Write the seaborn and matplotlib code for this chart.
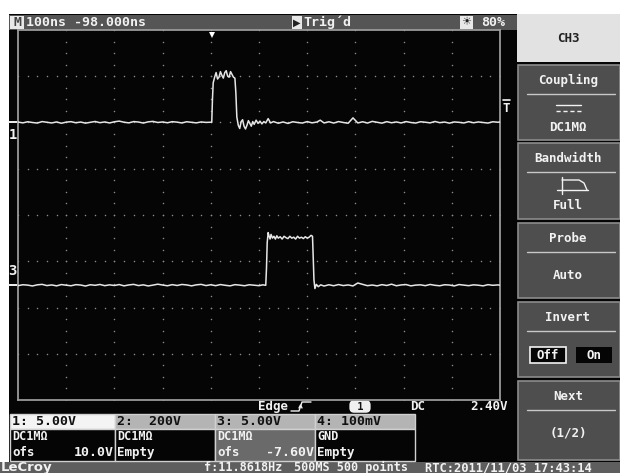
import numpy as np
import pandas as pd
import matplotlib
matplotlib.use("Agg")
import matplotlib.pyplot as plt
from matplotlib.patches import Rectangle
import seaborn as sns

# scope settings
TIME_DIV_NS = 100
TRIG_DELAY_NS = -98.0
CH1_VDIV, CH1_OFS = 5.0, 10.0
CH3_VDIV, CH3_OFS = 5.0, -7.6
TRIG_LEVEL_V = 2.40

# channel 1 trace (time in ns from screen centre, volts)
ch1_t = [-500, -490, -480, -470, -460, -450, -440, -430, -420, -410,
         -400, -390, -380, -370, -360, -350, -340, -330, -320, -310,
         -300, -290, -280, -270, -260, -250, -240, -230, -220, -210,
         -200, -190, -180, -170, -160, -150, -140, -130, -120, -110,
         -100, -98, -96.5, -95, -92, -89, -86, -83, -80, -77,
         -74, -71, -68, -65, -62, -59, -56, -53, -50, -48,
         -46, -43, -40, -37, -34, -31, -28, -25, -22, -19,
         -16, -13, -10, -6, -2, 2, 6, 10, 14, 19,
         24, 30, 40, 50, 60, 70, 80, 90, 100, 110,
         120, 127, 135, 145, 155, 165, 175, 185, 195, 205,
         215, 225, 235, 245, 255, 265, 275, 285, 295, 305,
         315, 325, 335, 345, 355, 365, 375, 385, 395, 405,
         415, 425, 435, 445, 455, 465, 475, 485, 495, 500]
ch1_v = [0.05, -0.04, 0.08, 0.00, -0.06, 0.10, 0.02, -0.05, 0.06, -0.08,
         0.04, 0.09, -0.03, 0.05, -0.07, 0.02, 0.11, -0.02, 0.06, -0.05,
         0.08, 0.15, 0.03, -0.04, 0.10, 0.05, -0.06, 0.07, 0.12, 0.00,
         0.06, -0.03, 0.09, 0.04, -0.05, 0.08, 0.02, -0.04, 0.06, 0.01,
         0.03, 0.05, 2.6, 4.3, 4.9, 5.4, 4.7, 4.9, 5.5, 5.1,
         4.8, 5.4, 5.6, 5.0, 4.9, 5.5, 5.2, 4.9, 4.8, 3.2,
         0.6, -0.3, -0.65, 0.1, 0.3, -0.4, -0.7, -0.3, 0.2, -0.1,
         -0.4, 0.1, -0.2, 0.25, -0.1, 0.15, -0.15, 0.1, -0.05, 0.42,
         -0.05, 0.1, -0.08, 0.06, -0.1, 0.08, 0.0, -0.06, 0.1, -0.04,
         0.05, 0.25, -0.05, 0.08, -0.06, 0.1, 0.0, -0.08, 0.5, -0.05,
         0.08, -0.06, 0.12, 0.02, -0.07, 0.09, -0.03, 0.06, -0.05, 0.1,
         0.0, -0.06, 0.08, 0.03, -0.04, 0.11, -0.02, 0.05, -0.07, 0.06,
         0.02, -0.05, 0.09, -0.03, 0.06, 0.0, -0.06, 0.08, 0.03, 0.05]

# channel 3 trace
ch3_t = [-500, -490, -480, -470, -460, -450, -440, -430, -420, -410,
         -400, -390, -380, -370, -360, -350, -340, -330, -320, -310,
         -300, -290, -280, -270, -260, -250, -240, -230, -220, -210,
         -200, -190, -180, -170, -160, -150, -140, -130, -120, -110,
         -100, -90, -80, -70, -60, -50, -40, -30, -20, -10,
         0, 8, 14, 15.5, 17, 19, 21, 23, 25, 28,
         31, 34, 37, 40, 44, 48, 52, 56, 60, 64,
         68, 72, 76, 80, 84, 88, 92, 96, 100, 104,
         108, 111, 112.5, 114, 116, 119, 123, 128, 135, 145,
         155, 165, 175, 185, 195, 205, 215, 225, 235, 245,
         255, 265, 275, 285, 295, 305, 315, 325, 335, 345,
         355, 365, 375, 385, 395, 405, 415, 425, 435, 445,
         455, 465, 475, 485, 495, 500]
ch3_v = [-0.04, 0.06, 0.02, -0.07, 0.05, 0.10, -0.03, 0.04, -0.06, 0.08,
         0.01, -0.05, 0.07, 0.03, -0.08, 0.06, 0.00, 0.09, -0.04, 0.05,
         -0.02, 0.08, -0.06, 0.04, 0.10, -0.03, 0.05, -0.07, 0.02, 0.12,
         0.03, -0.05, 0.07, -0.02, 0.09, 0.04, -0.06, 0.05, 0.10, -0.03,
         0.06, -0.04, 0.08, 0.00, -0.06, 0.07, 0.02, -0.05, 0.06, 0.01,
         -0.04, 0.05, 0.0, 1.8, 4.6, 5.7, 5.3, 5.0, 5.5, 5.1,
         5.3, 5.0, 5.35, 5.1, 5.25, 5.0, 5.3, 5.15, 5.05, 5.3,
         5.1, 5.2, 5.0, 5.3, 5.1, 5.2, 5.05, 5.25, 5.1, 5.2,
         5.4, 5.3, 3.0, 0.6, -0.35, 0.1, -0.15, 0.05, -0.08, 0.06,
         -0.05, 0.08, -0.03, 0.04, -0.07, 0.25, 0.10, -0.04, 0.03, -0.06,
         0.07, -0.02, 0.12, -0.05, 0.04, 0.08, -0.06, 0.02, 0.05, -0.04,
         0.09, 0.00, -0.05, 0.06, 0.03, -0.07, 0.08, 0.02, -0.04, 0.05,
         0.01, -0.06, 0.07, 0.00, 0.04, 0.02]

sns.set_theme(style='dark')
plt.rcParams['font.family'] = ['DejaVu Sans Mono', 'DejaVu Sans']
plt.rcParams['font.weight'] = 'bold'

WHITE = '#f2f2f2'
GREY = '#555555'
EDGE = '#9a9a9a'

fig = plt.figure(figsize=(6.2, 4.73), dpi=100, facecolor='white')

# pixel canvas for the screen furniture
ui = fig.add_axes([0, 0, 1, 1])
ui.set_xlim(0, 620)
ui.set_ylim(473, 0)
ui.axis('off')


def box(x0, y0, x1, y1, fc, ec='none', lw=1.0):
    ui.add_patch(Rectangle((x0, y0), x1 - x0, y1 - y0, fc=fc, ec=ec, lw=lw))


def txt(x, y, s, color=WHITE, size=9, ha='left', **kw):
    ui.text(x, y, s, color=color, fontsize=size, ha=ha, va='center', fontweight='bold', **kw)


box(9, 14, 620, 462, '#050505')
box(0, 462, 620, 473, '#5e5e5e')

# header bar
box(9, 15, 517, 30, GREY)
box(10, 16, 24, 29, '#e8e8e8')
txt(17, 22.7, 'M', color='#444444', size=9.5, ha='center')
txt(26, 22.7, f'{TIME_DIV_NS}ns {TRIG_DELAY_NS:.3f}ns', size=9.5)
box(292, 16, 302, 29, '#e8e8e8')
txt(297, 22.7, '▶', color='#222222', size=7, ha='center', family='DejaVu Sans')
txt(303, 22.7, 'Trig´d', size=9.5)
box(460, 16, 473, 29, '#e8e8e8')
txt(466.5, 22.7, '☀', color='#222222', size=8, ha='center', family='DejaVu Sans')
txt(481, 22.7, '80%', size=9.5)

# right soft-key menu
box(517, 14, 620, 62, '#e2e2e2')
txt(568, 38, 'CH3', color='#222222', size=9, ha='center')
menu = [(65, 140, 'Coupling', 'DC1MΩ', 127),
        (143, 219, 'Bandwidth', 'Full', 205),
        (223, 298, 'Probe', 'Auto', 275),
        (302, 377, 'Invert', None, 355),
        (381, 460, 'Next', '(1/2)', 433)]
for top, bot, title, value, vy in menu:
    box(518, top, 619.5, bot, '#4e4e4e', ec='#8c8c8c', lw=1.2)
    txt(568, top + 15, title, size=9, ha='center')
    ui.plot([527, 615], [top + 29, top + 29], color='#c8c8c8', lw=1)
    if value:
        txt(568, vy, value, size=9, ha='center')
# coupling symbol
ui.plot([556, 581], [105, 105], color=WHITE, lw=1)
ui.plot([556, 581], [111, 111], color=WHITE, lw=1, ls=(0, (3, 2)))
# bandwidth symbol
ui.plot([557, 588], [190, 190], color=WHITE, lw=1)
ui.plot([562, 562], [177, 194], color=WHITE, lw=1)
ui.plot([562, 579, 584, 587], [180, 180, 183, 190], color=WHITE, lw=1)
# invert off/on
box(530, 347, 566, 363, '#050505', ec=WHITE, lw=1.2)
txt(548, 355, 'Off', size=9, ha='center')
box(576, 347, 612, 363, '#050505')
txt(594, 355, 'On', size=9, ha='center')

# trigger row
txt(258, 406, 'Edge', size=9)
ui.plot([291, 299, 302, 311], [411, 411, 402, 402], color=WHITE, lw=1)
ui.plot([299, 300.5, 302], [408, 405, 408], color=WHITE, lw=1)
ui.text(360, 406.5, ' 1 ', color='#111111', fontsize=7.5, ha='center', va='center', fontweight='bold',
        bbox=dict(boxstyle='round,pad=0.12,rounding_size=0.45', fc='#f0f0f0', ec='none'))
txt(410, 406, 'DC', size=9)
txt(470, 406, f'{TRIG_LEVEL_V:.2f}V', size=9)

# channel info boxes
chan = [(10, 115, '1: 5.00V', 'DC1MΩ', 'ofs', '10.0V', '#f4f4f4', '#050505'),
        (115, 215, '2:  200V', 'DC1MΩ', 'Empty', '', '#b4b4b4', '#050505'),
        (215, 315, '3: 5.00V', 'DC1MΩ', 'ofs', '-7.60V', '#b4b4b4', '#6a6a6a'),
        (315, 415, '4: 100mV', 'GND', 'Empty', '', '#b4b4b4', '#050505')]
for x0, x1, head, r2, r3, r3v, hc, bc in chan:
    box(x0, 414, x1, 429, hc, ec='#d0d0d0', lw=1)
    box(x0, 429, x1, 461, bc, ec='#d0d0d0', lw=1)
    txt(x0 + 2, 421.5, head, color='#111111', size=9.5)
    txt(x0 + 2, 436, r2, size=8.5)
    txt(x0 + 2, 452, r3, size=9)
    if r3v:
        txt(x1 - 1, 452, r3v, size=9.5, ha='right')

# status bar
ui.text(1, 467.5, 'LeCroy', color=WHITE, fontsize=9.5, ha='left', va='center',
        fontweight='bold', family='DejaVu Sans')
txt(204, 467.5, 'f:11.8618Hz', size=8.5)
txt(294, 467.5, '500MS 500 points', size=8.5)
txt(425, 467.5, 'RTC:2011/11/03 17:43:14', size=8.7)

# waveform graticule
ax = fig.add_axes([18 / 620, 1 - 400 / 473, 482 / 620, 370 / 473])
ax.set_facecolor('#050505')
ax.set_xlim(-5 * TIME_DIV_NS, 5 * TIME_DIV_NS)
ax.set_ylim(-4, 4)
ax.set_xticks([])
ax.set_yticks([])
for side in ['left', 'bottom', 'right', 'top']:
    ax.spines[side].set_color(EDGE)
    ax.spines[side].set_linewidth(1.3)

gx = np.arange(-4, 5) * TIME_DIV_NS
gy = np.arange(-3, 4)
vy = np.arange(-4, 4.01, 0.25)
hx = np.arange(-5, 5.01, 0.2) * TIME_DIV_NS
ax.scatter(np.repeat(gx, len(vy)), np.tile(vy, len(gx)), s=1.2, color='#8a8a8a', lw=0, zorder=1)
ax.scatter(np.tile(hx, len(gy)), np.repeat(gy, len(hx)), s=1.2, color='#8a8a8a', lw=0, zorder=1)

traces = pd.concat([
    pd.DataFrame({'t': ch1_t, 'div': np.array(ch1_v) / CH1_VDIV + CH1_OFS / CH1_VDIV, 'ch': 'C1'}),
    pd.DataFrame({'t': ch3_t, 'div': np.array(ch3_v) / CH3_VDIV + CH3_OFS / CH3_VDIV, 'ch': 'C3'}),
])
sns.lineplot(data=traces, x='t', y='div', hue='ch', palette=['#e6e6e6', '#e6e6e6'],
             estimator=None, sort=False, lw=1.1, legend=False, ax=ax, zorder=3)
ax.set_xlabel('')
ax.set_ylabel('')

# trigger position and level markers
ax.plot(TRIG_DELAY_NS, 3.9, marker='v', color='white', ms=5, mew=0, clip_on=False, zorder=4)
yt = ax.get_yaxis_transform()
lvl = TRIG_LEVEL_V / CH1_VDIV + CH1_OFS / CH1_VDIV
ax.plot([1.006, 1.02], [lvl, lvl], color=WHITE, lw=1.2, transform=yt, clip_on=False)
ax.text(1.013, lvl - 0.17, 'T', color=WHITE, fontsize=9, ha='center', va='center',
        transform=yt, fontweight='bold')

# channel ground markers on the left
for lab, ofs, vdiv, dy in [('1', CH1_OFS, CH1_VDIV, -0.27), ('3', CH3_OFS, CH3_VDIV, 0.3)]:
    g = ofs / vdiv
    ax.plot([-0.018, -0.003], [g, g], color=WHITE, lw=1.4, transform=yt, clip_on=False)
    ax.text(-0.011, g + dy, lab, color=WHITE, fontsize=10, ha='center', va='center',
            transform=yt, fontweight='bold')

fig.savefig('out.png', dpi=100, facecolor='white')
